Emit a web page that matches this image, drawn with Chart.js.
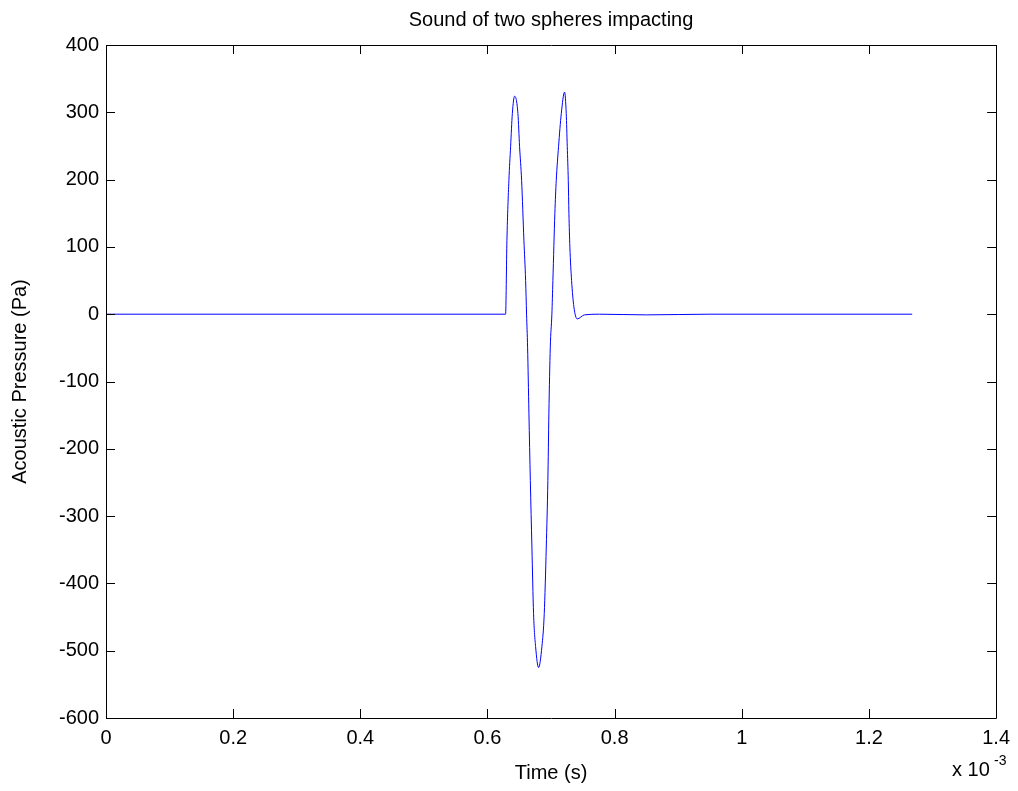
<!DOCTYPE html>
<html>
<head>
<meta charset="utf-8">
<script src="https://cdn.jsdelivr.net/npm/chart.js@4"></script>
<style>
  html, body { margin: 0; padding: 0; background: #fff; }
  canvas { display: block; }
</style>
</head>
<body>
<canvas id="sound-chart" width="1018" height="791"></canvas>
<script>
'use strict';

// time in units of 1e-3 s (axis shows "x 10^-3")
var timeMs = [0, 0.6285, 0.6306, 0.6337, 0.6364, 0.6391, 0.6427, 0.6479, 0.6505, 0.6537, 0.6573, 0.6600,
  0.6615, 0.6631, 0.6652, 0.6674, 0.6699, 0.6725, 0.6757, 0.6804, 0.6856, 0.6893, 0.6925, 0.6950,
  0.6966, 0.6988, 0.7013, 0.7029, 0.7060, 0.7082, 0.7118, 0.7161, 0.7213, 0.7239, 0.7255, 0.7271,
  0.7281, 0.7296, 0.7323, 0.7359, 0.7412, 0.7526, 0.776, 0.85, 0.95, 1.268];
var pressure = [0, 0, 110, 199, 249, 298, 324, 298, 249, 199, 110, 50,
  0, -49, -147, -247, -346, -445, -494, -525, -494, -445, -346, -247,
  -147, -49, 0, 50, 150, 199, 249, 298, 330, 298, 249, 199,
  150, 100, 50, 11, -7, -1, 0, -1, 0, 0];

var xTicks = [0, 0.2, 0.4, 0.6, 0.8, 1, 1.2, 1.4];
var yTicks = [-600, -500, -400, -300, -200, -100, 0, 100, 200, 300, 400];

var FONT = 'Liberation Sans, Arial, sans-serif';

// matlab style box with inward ticks on all four sides
var boxPlugin = {
  id: 'matlabBox',
  afterDraw: function(chart) {
    const ctx = chart.ctx;
    const a = chart.chartArea;
    const tl = 9;
    ctx.save();
    ctx.strokeStyle = '#000';
    ctx.lineWidth = 1;
    ctx.beginPath();
    ctx.rect(Math.round(a.left) + 0.5, Math.round(a.top) + 0.5,
      Math.round(a.right - a.left), Math.round(a.bottom - a.top));
    chart.scales.x.ticks.forEach(function(t) {
      const px = Math.round(chart.scales.x.getPixelForValue(t.value)) + 0.5;
      ctx.moveTo(px, a.bottom); ctx.lineTo(px, a.bottom - tl);
      ctx.moveTo(px, a.top); ctx.lineTo(px, a.top + tl);
    });
    chart.scales.y.ticks.forEach(function(t) {
      const py = Math.round(chart.scales.y.getPixelForValue(t.value)) + 0.5;
      ctx.moveTo(a.left, py); ctx.lineTo(a.left + tl, py);
      ctx.moveTo(a.right, py); ctx.lineTo(a.right - tl, py);
    });
    ctx.stroke();

    // exponent label
    ctx.fillStyle = '#000';
    ctx.textBaseline = 'alphabetic';
    ctx.textAlign = 'left';
    ctx.font = '20px ' + FONT;
    ctx.fillText('x 10', 952, 776);
    ctx.font = '14px ' + FONT;
    ctx.fillText('-3', 994, 765);
    ctx.restore();
  }
};

const ctx = document.getElementById('sound-chart').getContext('2d');
const chart = new Chart(ctx, {
  type: 'line',
  data: {
    datasets: [{
      label: 'Acoustic Pressure',
      data: timeMs.map((t, i) => ({ x: t, y: pressure[i] })),
      borderColor: '#0000ff',
      borderWidth: 1,
      pointRadius: 0,
      cubicInterpolationMode: 'monotone',
      fill: false
    }]
  },
  options: {
    responsive: false,
    animation: false,
    devicePixelRatio: 1,
    layout: { padding: { top: 0, left: 0, right: 21, bottom: 0 } },
    plugins: {
      legend: { display: false },
      tooltip: { enabled: false },
      title: {
        display: true,
        fullSize: false,
        text: 'Sound of two spheres impacting',
        color: '#000',
        font: { family: FONT, size: 20, weight: 'normal' },
        padding: { top: 8, bottom: 13 }
      }
    },
    scales: {
      x: {
        type: 'linear',
        min: 0,
        max: 1.4,
        afterBuildTicks: function(scale) {
          scale.ticks = xTicks.map(v => ({ value: v }));
        },
        afterFit: function(scale) { scale.height = 73; },
        grid: { display: false, drawTicks: false },
        border: { display: false },
        ticks: {
          color: '#000',
          padding: 8,
          maxRotation: 0,
          font: { family: FONT, size: 20 },
          callback: v => String(v)
        },
        title: {
          display: true,
          text: 'Time (s)',
          color: '#000',
          font: { family: FONT, size: 20 },
          padding: { top: 0, bottom: 6 }
        }
      },
      y: {
        min: -600,
        max: 400,
        afterBuildTicks: function(scale) {
          scale.ticks = yTicks.map(v => ({ value: v }));
        },
        afterFit: function(scale) { scale.width = 106; },
        grid: { display: false, drawTicks: false },
        border: { display: false },
        ticks: {
          color: '#000',
          padding: 7,
          font: { family: FONT, size: 20 },
          callback: v => String(v)
        },
        title: {
          display: true,
          text: 'Acoustic Pressure (Pa)',
          color: '#000',
          font: { family: FONT, size: 20 },
          padding: { top: 8, bottom: 0 }
        }
      }
    }
  },
  plugins: [boxPlugin]
});
</script>
</body>
</html>
